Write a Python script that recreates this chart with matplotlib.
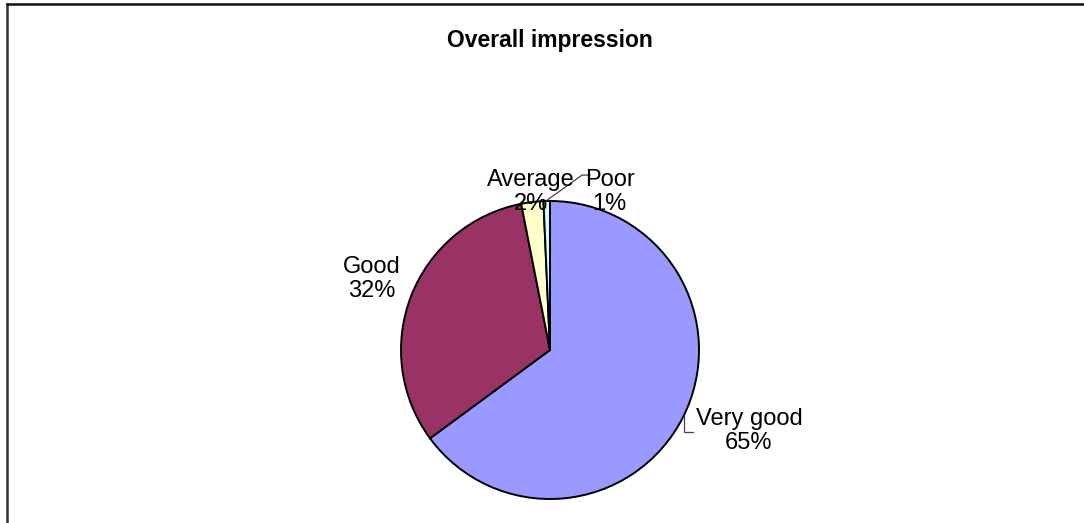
import matplotlib
matplotlib.use("Agg")
import matplotlib.pyplot as plt
from matplotlib.lines import Line2D
import numpy as np

title = "Overall impression"
categories = ["Very good", "Good", "Average", "Poor"]
values = [64.9, 32.0, 2.4, 0.7]
colors = ["#9999FF", "#993366", "#FFFFCC", "#CCFFFF"]

plt.rcParams['font.family'] = ['Liberation Sans', 'DejaVu Sans']

W, H = 1084, 523
fig = plt.figure(figsize=(W / 100, H / 100), dpi=100)

# frame (left + top lines)
fig.add_artist(Line2D([7 / W, 7 / W], [0, 1 - 4 / H], transform=fig.transFigure,
                      color="#333333", lw=1.8))
fig.add_artist(Line2D([7 / W, 1], [1 - 4 / H, 1 - 4 / H], transform=fig.transFigure,
                      color="#111111", lw=1.8))

fig.text(550 / W, 1 - 40 / H, title, ha="center", va="center",
         fontsize=16.5, fontweight="bold")

cx, cy, r = 550, 350, 149
ax = fig.add_axes([(cx - r) / W, (H - cy - r) / H, 2 * r / W, 2 * r / H])

wedges, _ = ax.pie(values, colors=colors, startangle=90, counterclock=False,
                   radius=1, wedgeprops=dict(edgecolor="black", linewidth=1.4))
ax.set_xlim(-1, 1)
ax.set_ylim(-1, 1)
ax.set_aspect("equal")
ax.axis("off")

total = sum(values)
label_pos = [(1.335, -0.545), (-1.195, 0.477), (-0.13, 1.06), (0.40, 1.06)]
for cat, v, (tx, ty) in zip(categories, values, label_pos):
    ax.text(tx, ty, f"{cat}\n{v / total * 100:.0f}%", ha="center", va="center",
            fontsize=17, linespacing=1.15, clip_on=False)

# leader lines
ax.plot([0.899, 0.899, 0.96], [-0.44, -0.55, -0.55], color="#444444", lw=0.9, clip_on=False)
ax.plot([-0.02, 0.215, 0.268], [1.005, 1.174, 1.174], color="#444444", lw=0.9, clip_on=False)

fig.savefig("out.png", dpi=100, facecolor="white")
